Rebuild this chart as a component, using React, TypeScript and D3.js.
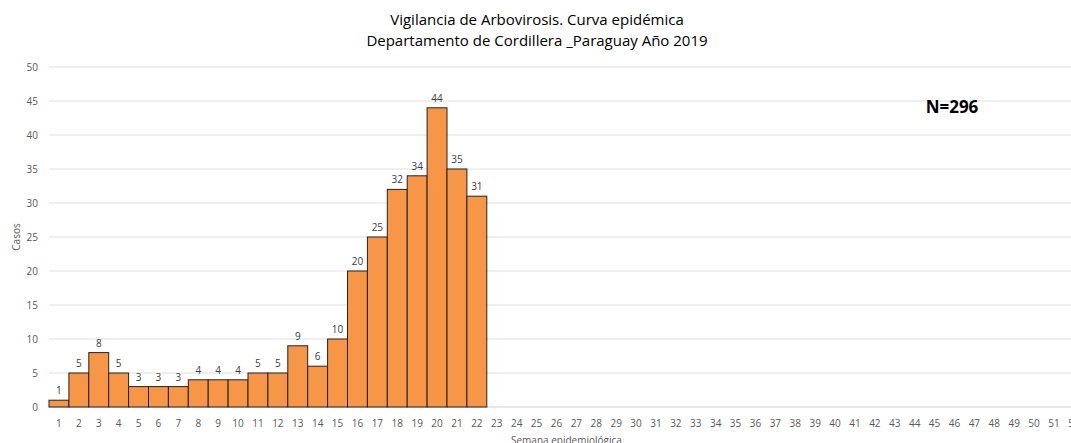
import React from "react";
import { scaleBand, scaleLinear, range } from "d3";

const weeks = range(1, 53).map(String);
const casos = [1, 5, 8, 5, 3, 3, 3, 4, 4, 4, 5, 5, 9, 6, 10, 20, 25, 32, 34, 44, 35, 31];
const yTicks = [0, 5, 10, 15, 20, 25, 30, 35, 40, 45, 50];
const titleLines = [
  "Vigilancia de Arbovirosis. Curva epidémica",
  "Departamento de Cordillera _Paraguay Año 2019",
];

export default function App() {
  const W = 1071;
  const H = 443;
  const left = 49;
  const x = scaleBand().domain(weeks).range([left, left + 52 * 19.9]).padding(0);
  const y = scaleLinear().domain([0, 50]).range([407, 67]);
  const font = "'Open Sans', 'Noto Sans', sans-serif";

  return (
    <div style={{ position: "fixed", left: 0, top: 0 }}>
      <svg width={W} height={H} style={{ background: "white", display: "block" }} fontFamily={font}>
        {titleLines.map((t, i) => (
          <text key={i} x={537} y={25 + i * 21} textAnchor="middle" fontSize={15} fill="#000">
            {t}
          </text>
        ))}
        {yTicks.map((t) => (
          <g key={t}>
            <line x1={left} x2={W} y1={y(t)} y2={y(t)} stroke={t === 0 ? "#d0d0d0" : "#e0e0e0"} strokeWidth={1} />
            <text x={38} y={y(t) + 3.5} textAnchor="end" fontSize={10} fill="#595959">
              {t}
            </text>
          </g>
        ))}
        {casos.map((v, i) => (
          <g key={i}>
            <rect
              x={x(weeks[i])!}
              y={y(v)}
              width={x.bandwidth()}
              height={y(0) - y(v)}
              fill="#F79646"
              stroke="#222"
              strokeWidth={1}
            />
            <text
              x={x(weeks[i])! + x.bandwidth() / 2}
              y={y(v) - 6}
              textAnchor="middle"
              fontSize={10}
              fill="#404040"
            >
              {v}
            </text>
          </g>
        ))}
        {weeks.map((w) => (
          <text key={w} x={x(w)! + x.bandwidth() / 2} y={427} textAnchor="middle" fontSize={10} fill="#595959">
            {w}
          </text>
        ))}
        <text x={(left + left + 52 * 19.9) / 2} y={444} textAnchor="middle" fontSize={10} fill="#595959">
          Semana epidemiológica
        </text>
        <text transform={`translate(20,${(67 + 407) / 2}) rotate(-90)`} textAnchor="middle" fontSize={10} fill="#595959">
          Casos
        </text>
        <text x={952} y={113} textAnchor="middle" fontSize={17} fontWeight="bold" fill="#000">
          N=296
        </text>
      </svg>
    </div>
  );
}
